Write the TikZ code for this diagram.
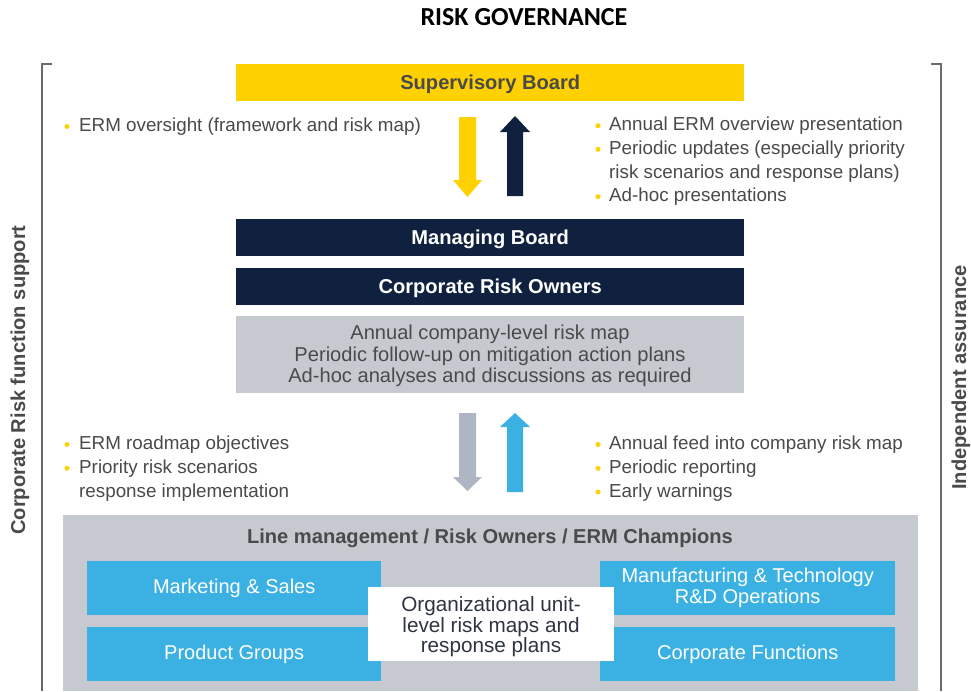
\documentclass[tikz,border=0pt]{standalone}
\usepackage{fontspec}
\setmainfont{Liberation Sans}
\newfontfamily\titlefont{Carlito}
\definecolor{cyel}{HTML}{FFD100}
\definecolor{cnavy}{HTML}{10213F}
\definecolor{cgreybox}{HTML}{C7C9D1}
\definecolor{cblue}{HTML}{3BB1E3}
\definecolor{cgarrow}{HTML}{AEB5C3}
\definecolor{ctext}{HTML}{4A4A4A}
\definecolor{cdark}{HTML}{2E3440}
\definecolor{cline}{HTML}{6A6A6A}
\begin{document}
\begin{tikzpicture}[x=1pt,y=-1pt,
  bar/.style={inner sep=0pt, minimum width=508pt, minimum height=37pt, anchor=north west, text height=14.3pt, text depth=0pt},
  barfont/.style={font=\fontsize{20.1}{22}\selectfont\bfseries},
  bullettext/.style={anchor=base west, inner sep=0pt, text=ctext, font=\fontsize{18.8}{23}\selectfont},
  dot/.style={fill=cyel, draw=none},
  unitbox/.style={fill=cblue, inner sep=0pt, minimum width=294pt, minimum height=54pt, anchor=north west, text=white, align=center, font=\fontsize{20}{21}\selectfont},
  sidelabel/.style={text=ctext, font=\fontsize{20.1}{22}\selectfont\bfseries, rotate=90},
  bracket/.style={draw=cline, line width=1.4pt}
]
\useasboundingbox (0,0) rectangle (971,691);
\fill[white] (0,0) rectangle (971,691);

% title
\node[font=\titlefont\fontsize{26}{28}\selectfont\bfseries, text=black] (title) at (524,17.5) {RISK GOVERNANCE};

% brackets
\coordinate (lbt) at (52,64);
\coordinate (lbc) at (42,64);
\coordinate (lbb) at (42,691);
\draw[bracket] (lbt) -- (lbc) -- (lbb);
\coordinate (rbt) at (931,64);
\coordinate (rbc) at (941,64);
\coordinate (rbb) at (941,691);
\draw[bracket] (rbt) -- (rbc) -- (rbb);

\node[sidelabel] (lside) at (20,380) {Corporate Risk function support};
\node[sidelabel] (rside) at (961,377.5) {Independent assurance};

% top bars
\node[bar, fill=cyel, text=ctext, barfont] (sup) at (236,64) {Supervisory Board};
\node[bar, fill=cnavy, text=white, barfont] (mgmt) at (236,219) {Managing Board};
\node[bar, fill=cnavy, text=white, barfont] (cro) at (236,268) {Corporate Risk Owners};
\fill[cgreybox] (236,316) rectangle (744,393);
\node[inner sep=0pt, text=ctext, align=center, font=\fontsize{20.1}{21.5}\selectfont] (annual) at (490,356) {Annual company-level risk map\\Periodic follow-up on mitigation action plans\\Ad-hoc analyses and discussions as required};

% upper arrows
\fill[cyel] (459,117) -- (476,117) -- (476,180) -- (482,180) -- (467.5,197) -- (453,180) -- (459,180) -- cycle;
\fill[cnavy] (507,196) -- (523,196) -- (523,132) -- (530,132) -- (515,116) -- (500,132) -- (507,132) -- cycle;

% lower arrows
\fill[cgarrow] (459,413) -- (476,413) -- (476,477) -- (482,477) -- (467.5,491) -- (453,477) -- (459,477) -- cycle;
\fill[cblue] (507,492) -- (523,492) -- (523,427) -- (530,427) -- (515,413) -- (500,427) -- (507,427) -- cycle;

% upper bullets
\fill[dot] (67,126.5) circle (2.5);
\node[bullettext] (b1) at (79,131.5) {ERM oversight (framework and risk map)};
\fill[dot] (598,125.7) circle (2.5);
\node[bullettext] (b2) at (609,130.7) {Annual ERM overview presentation};
\fill[dot] (598,149.3) circle (2.5);
\node[bullettext] (b3) at (609,154.3) {Periodic updates (especially priority};
\node[bullettext] (b4) at (609,178.2) {risk scenarios and response plans)};
\fill[dot] (598,196.7) circle (2.5);
\node[bullettext] (b5) at (609,201.8) {Ad-hoc presentations};

% lower bullets
\fill[dot] (67,444.5) circle (2.5);
\node[bullettext] (c1) at (79,449.5) {ERM roadmap objectives};
\fill[dot] (67,468.3) circle (2.5);
\node[bullettext] (c2) at (79,473.3) {Priority risk scenarios};
\node[bullettext] (c3) at (79,497) {response implementation};
\fill[dot] (598,444.5) circle (2.5);
\node[bullettext] (d1) at (609,449.5) {Annual feed into company risk map};
\fill[dot] (598,468.3) circle (2.5);
\node[bullettext] (d2) at (609,473.3) {Periodic reporting};
\fill[dot] (598,492) circle (2.5);
\node[bullettext] (d3) at (609,497) {Early warnings};

% line management box
\fill[cgreybox] (63,515) rectangle (918,691);
\node[text=ctext, font=\fontsize{20.1}{22}\selectfont\bfseries] (line) at (490,538.5) {Line management / Risk Owners / ERM Champions};

\node[unitbox] (mkt) at (87,561) {Marketing \& Sales};
\node[unitbox] (prod) at (87,627) {Product Groups};
\node[unitbox, minimum width=295pt] (manu) at (600,561) {Manufacturing \& Technology\\R\&D Operations};
\node[unitbox, minimum width=295pt] (corp) at (600,627) {Corporate Functions};

\fill[white] (368,587) rectangle (614,661);
\node[inner sep=0pt, align=center, text=cdark, font=\fontsize{20.7}{20.5}\selectfont] (org) at (491,627) {Organizational unit-\\level risk maps and\\response plans};
\end{tikzpicture}
\end{document}
